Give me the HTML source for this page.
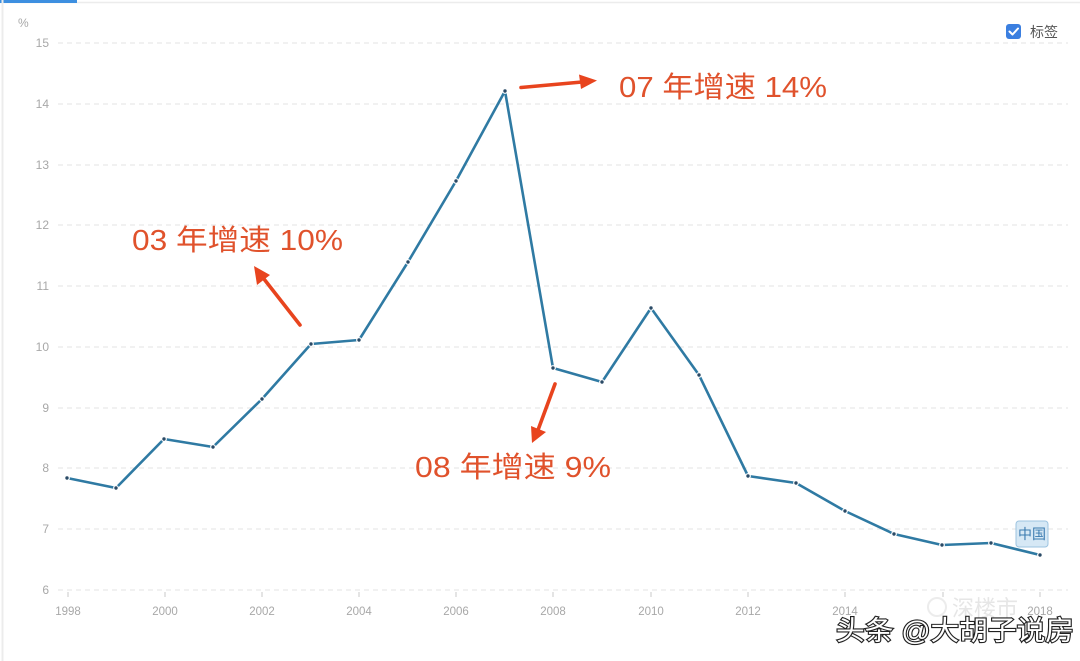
<!DOCTYPE html>
<html><head><meta charset="utf-8">
<style>
html,body{margin:0;padding:0;background:#fff;}
body{width:1080px;height:661px;overflow:hidden;position:relative;font-family:"Liberation Sans","Noto Sans CJK SC",sans-serif;}
svg{position:absolute;left:0;top:0;}
</style></head>
<body>
<svg width="1080" height="661" viewBox="0 0 1080 661" xmlns="http://www.w3.org/2000/svg">
  <rect x="0" y="0" width="1080" height="661" fill="#fff"/>
  <!-- frame -->
  <line x1="0" y1="2.5" x2="1080" y2="2.5" stroke="#ececec" stroke-width="1.5"/>
  <rect x="0" y="0" width="77" height="3" fill="#3d8fe0"/>
  <line x1="2.5" y1="0" x2="2.5" y2="661" stroke="#ececec" stroke-width="2"/>

  <!-- grid -->
  <g stroke="#e3e3e3" stroke-width="1" stroke-dasharray="5,4">
    <line x1="58" y1="43" x2="1068" y2="43"/>
    <line x1="58" y1="104" x2="1068" y2="104"/>
    <line x1="58" y1="165" x2="1068" y2="165"/>
    <line x1="58" y1="225" x2="1068" y2="225"/>
    <line x1="58" y1="286" x2="1068" y2="286"/>
    <line x1="58" y1="347" x2="1068" y2="347"/>
    <line x1="58" y1="408" x2="1068" y2="408"/>
    <line x1="58" y1="468" x2="1068" y2="468"/>
    <line x1="58" y1="529" x2="1068" y2="529"/>
    <line x1="58" y1="590" x2="1068" y2="590"/>
  </g>

  <!-- y labels -->
  <g fill="#a8a8a8" font-size="12" font-family="Liberation Sans, sans-serif" text-anchor="end">
    <text x="18" y="27" text-anchor="start">%</text>
    <text x="49" y="47">15</text>
    <text x="49" y="108">14</text>
    <text x="49" y="169">13</text>
    <text x="49" y="229">12</text>
    <text x="49" y="290">11</text>
    <text x="49" y="351">10</text>
    <text x="49" y="412">9</text>
    <text x="49" y="472">8</text>
    <text x="49" y="533">7</text>
    <text x="49" y="594">6</text>
  </g>

  <!-- x ticks -->
  <g stroke="#c8c8c8" stroke-width="1">
    <line x1="68" y1="592" x2="68" y2="597"/>
    <line x1="165" y1="592" x2="165" y2="597"/>
    <line x1="262" y1="592" x2="262" y2="597"/>
    <line x1="359" y1="592" x2="359" y2="597"/>
    <line x1="456" y1="592" x2="456" y2="597"/>
    <line x1="553" y1="592" x2="553" y2="597"/>
    <line x1="651" y1="592" x2="651" y2="597"/>
    <line x1="748" y1="592" x2="748" y2="597"/>
    <line x1="845" y1="592" x2="845" y2="597"/>
    <line x1="943" y1="592" x2="943" y2="597"/>
    <line x1="1040" y1="592" x2="1040" y2="597"/>
  </g>
  <g fill="#a8a8a8" font-size="11.5" font-family="Liberation Sans, sans-serif" text-anchor="middle">
    <text x="68" y="615">1998</text>
    <text x="165" y="615">2000</text>
    <text x="262" y="615">2002</text>
    <text x="359" y="615">2004</text>
    <text x="456" y="615">2006</text>
    <text x="553" y="615">2008</text>
    <text x="651" y="615">2010</text>
    <text x="748" y="615">2012</text>
    <text x="845" y="615">2014</text>
    <text x="1040" y="615">2018</text>
  </g>

  <!-- faint watermark behind -->
  <text x="952" y="616" fill="#e6e6e6" font-size="22" font-family="Liberation Sans, Noto Sans CJK SC, sans-serif">深楼市</text>
  <circle cx="937" cy="607" r="9" fill="none" stroke="#ececec" stroke-width="2"/>

  <!-- series -->
  <polyline fill="none" stroke="#2f7aa3" stroke-width="2.6" stroke-linejoin="round"
    points="67,478 116,488 164,439 213,447 262,399 311,344 359,340 408,262 456,181 505,91 553,368 602,382 651,308 699,375 748,476 796,483 845,511 894,534 942,545 991,543 1040,555"/>
  <g fill="#2a4a66" stroke="#fff" stroke-width="1.2">
    <circle cx="67" cy="478" r="2.3"/><circle cx="116" cy="488" r="2.3"/>
    <circle cx="164" cy="439" r="2.3"/><circle cx="213" cy="447" r="2.3"/>
    <circle cx="262" cy="399" r="2.3"/><circle cx="311" cy="344" r="2.3"/>
    <circle cx="359" cy="340" r="2.3"/><circle cx="408" cy="262" r="2.3"/>
    <circle cx="456" cy="181" r="2.3"/><circle cx="505" cy="91" r="2.3"/>
    <circle cx="553" cy="368" r="2.3"/><circle cx="602" cy="382" r="2.3"/>
    <circle cx="651" cy="308" r="2.3"/><circle cx="699" cy="375" r="2.3"/>
    <circle cx="748" cy="476" r="2.3"/><circle cx="796" cy="483" r="2.3"/>
    <circle cx="845" cy="511" r="2.3"/><circle cx="894" cy="534" r="2.3"/>
    <circle cx="942" cy="545" r="2.3"/><circle cx="991" cy="543" r="2.3"/>
    <circle cx="1040" cy="555" r="2.3"/>
  </g>

  <!-- 中国 label -->
  <rect x="1016" y="521" width="32" height="26" rx="3" fill="#d6e8f5" stroke="#9cc3e0" stroke-width="1"/>
  <text x="1032" y="539" fill="#3a7bb0" font-size="14" text-anchor="middle" font-family="Noto Sans CJK SC, sans-serif">中国</text>

  <!-- legend -->
  <rect x="1006" y="24" width="15" height="15" rx="3" fill="#3b7fe0"/>
  <path d="M1009.5 31.5 L1012.5 34.5 L1018 28.5" fill="none" stroke="#fff" stroke-width="2" stroke-linecap="round" stroke-linejoin="round"/>
  <text x="1030" y="37" fill="#555" font-size="14" font-family="Noto Sans CJK SC, sans-serif">标签</text>

  <!-- annotations -->
  <g fill="#e0522c" font-family="Liberation Sans, Noto Sans CJK SC, sans-serif" font-size="29">
    <text x="619" y="97" textLength="208" lengthAdjust="spacingAndGlyphs">07 年增速 14%</text>
    <text x="132" y="250" textLength="211" lengthAdjust="spacingAndGlyphs">03 年增速 10%</text>
    <text x="415" y="477" textLength="196" lengthAdjust="spacingAndGlyphs">08 年增速 9%</text>
  </g>
  <!-- arrows -->
  <g stroke="#e8441e" stroke-width="3.6" stroke-linecap="round" fill="none">
    <line x1="521" y1="87.5" x2="582" y2="82"/>
    <line x1="300" y1="325" x2="264" y2="279"/>
    <line x1="555" y1="384" x2="538" y2="430"/>
  </g>
  <g fill="#e8441e">
    <polygon points="597,80.5 579,74.5 581,89"/>
    <polygon points="254,266 257,285 270,275"/>
    <polygon points="532,443 531,426 546,432"/>
  </g>

  <!-- watermark -->
  <text x="836" y="640" font-size="27" fill="#fff" stroke="#222" stroke-width="2.2" paint-order="stroke" font-family="Liberation Sans, Noto Sans CJK SC, sans-serif" textLength="238" lengthAdjust="spacingAndGlyphs">头条 @大胡子说房</text>
</svg>
</body></html>
